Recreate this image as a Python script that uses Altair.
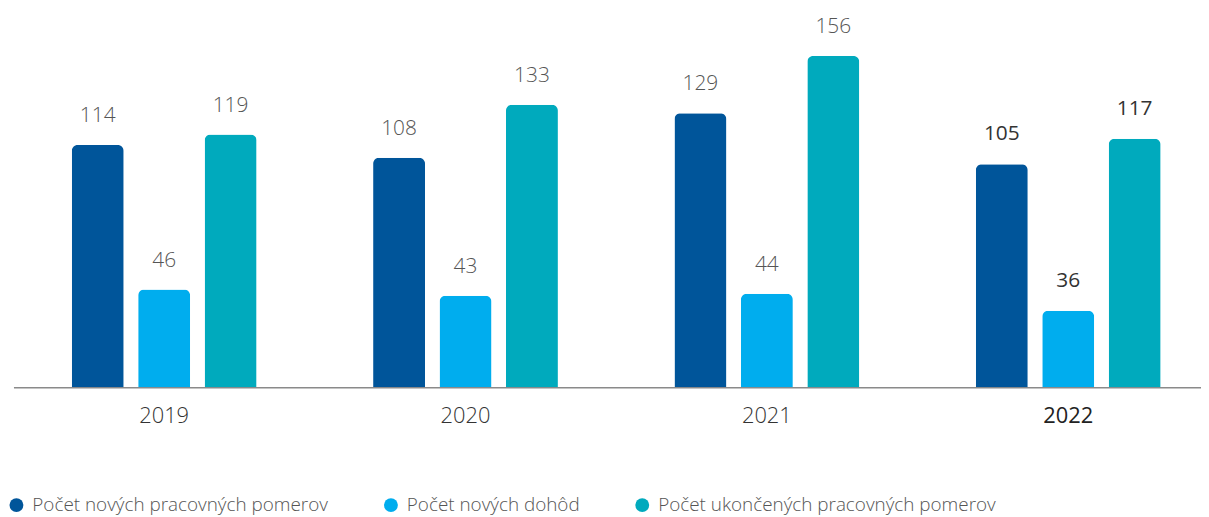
import altair as alt
import pandas as pd

years = ["2019", "2020", "2021", "2022"]
series = [
    "Počet nových pracovných pomerov",
    "Počet nových dohôd",
    "Počet ukončených pracovných pomerov",
]
new_contracts = [114, 108, 129, 105]
new_agreements = [46, 43, 44, 36]
terminated = [119, 133, 156, 117]
colors = ["#00559A", "#00ADEE", "#00AABD"]
highlight_year = "2022"

rows = []
for i, y in enumerate(years):
    for s, vals in zip(series, [new_contracts, new_agreements, terminated]):
        rows.append({"year": y, "series": s, "value": vals[i]})
df = pd.DataFrame(rows)

FONT = "Open Sans"

x_enc = alt.X(
    "year:N",
    sort=years,
    scale=alt.Scale(range=[4.5, 1218], paddingInner=0.3867, paddingOuter=0.19335),
    axis=alt.Axis(
        title=None,
        ticks=False,
        domainColor="#8a8a8a",
        domainWidth=1.5,
        labelAngle=0,
        labelFont=FONT,
        labelFontSize=22,
        labelPadding=19,
        labelFontWeight={"condition": {"test": f"datum.value === '{highlight_year}'", "value": 500}, "value": 300},
        labelColor={"condition": {"test": f"datum.value === '{highlight_year}'", "value": "#222222"}, "value": "#333333"},
    ),
)
xoff = alt.XOffset(
    "series:N", sort=series, scale=alt.Scale(paddingInner=0.218, paddingOuter=0)
)
y_enc = alt.Y(
    "value:Q",
    scale=alt.Scale(domain=[0, 160]),
    axis=None,
)

bars = alt.Chart(df).mark_bar(cornerRadiusTopLeft=6, cornerRadiusTopRight=6).encode(
    x=x_enc,
    xOffset=xoff,
    y=y_enc,
    color=alt.Color(
        "series:N",
        sort=series,
        scale=alt.Scale(domain=series, range=colors),
        legend=alt.Legend(
            title=None,
            orient="none",
            direction="horizontal",
            legendX=-2,
            legendY=451,
            symbolType="circle",
            symbolSize=196,
            symbolStrokeWidth=0,
            labelFont=FONT,
            labelFontSize=19,
            labelFontWeight=300,
            labelColor="#555555",
            labelOffset=6.5,
            labelLimit=500,
            columnPadding=53,
            padding=0,
        ),
    ),
)

labels_light = alt.Chart(df).transform_filter(
    f"datum.year !== '{highlight_year}'"
).mark_text(
    font=FONT, fontSize=21, fontWeight=300, color="#555555", baseline="alphabetic", dy=-23
).encode(x=x_enc, xOffset=xoff, y=y_enc, text="value:Q")

labels_bold = alt.Chart(df).transform_filter(
    f"datum.year === '{highlight_year}'"
).mark_text(
    font=FONT, fontSize=21, fontWeight=500, color="#333333", baseline="alphabetic", dy=-24
).encode(x=x_enc, xOffset=xoff, y=y_enc, text="value:Q")

chart = alt.layer(bars, labels_light, labels_bold).properties(
    width=1192,
    height=342,
    autosize=alt.AutoSizeParams(type="none"),
    padding={"left": 1, "top": 38, "right": 8, "bottom": 129},
).configure_view(stroke=None)

chart.save("out.html", embed_options={"renderer": "svg", "actions": False})
